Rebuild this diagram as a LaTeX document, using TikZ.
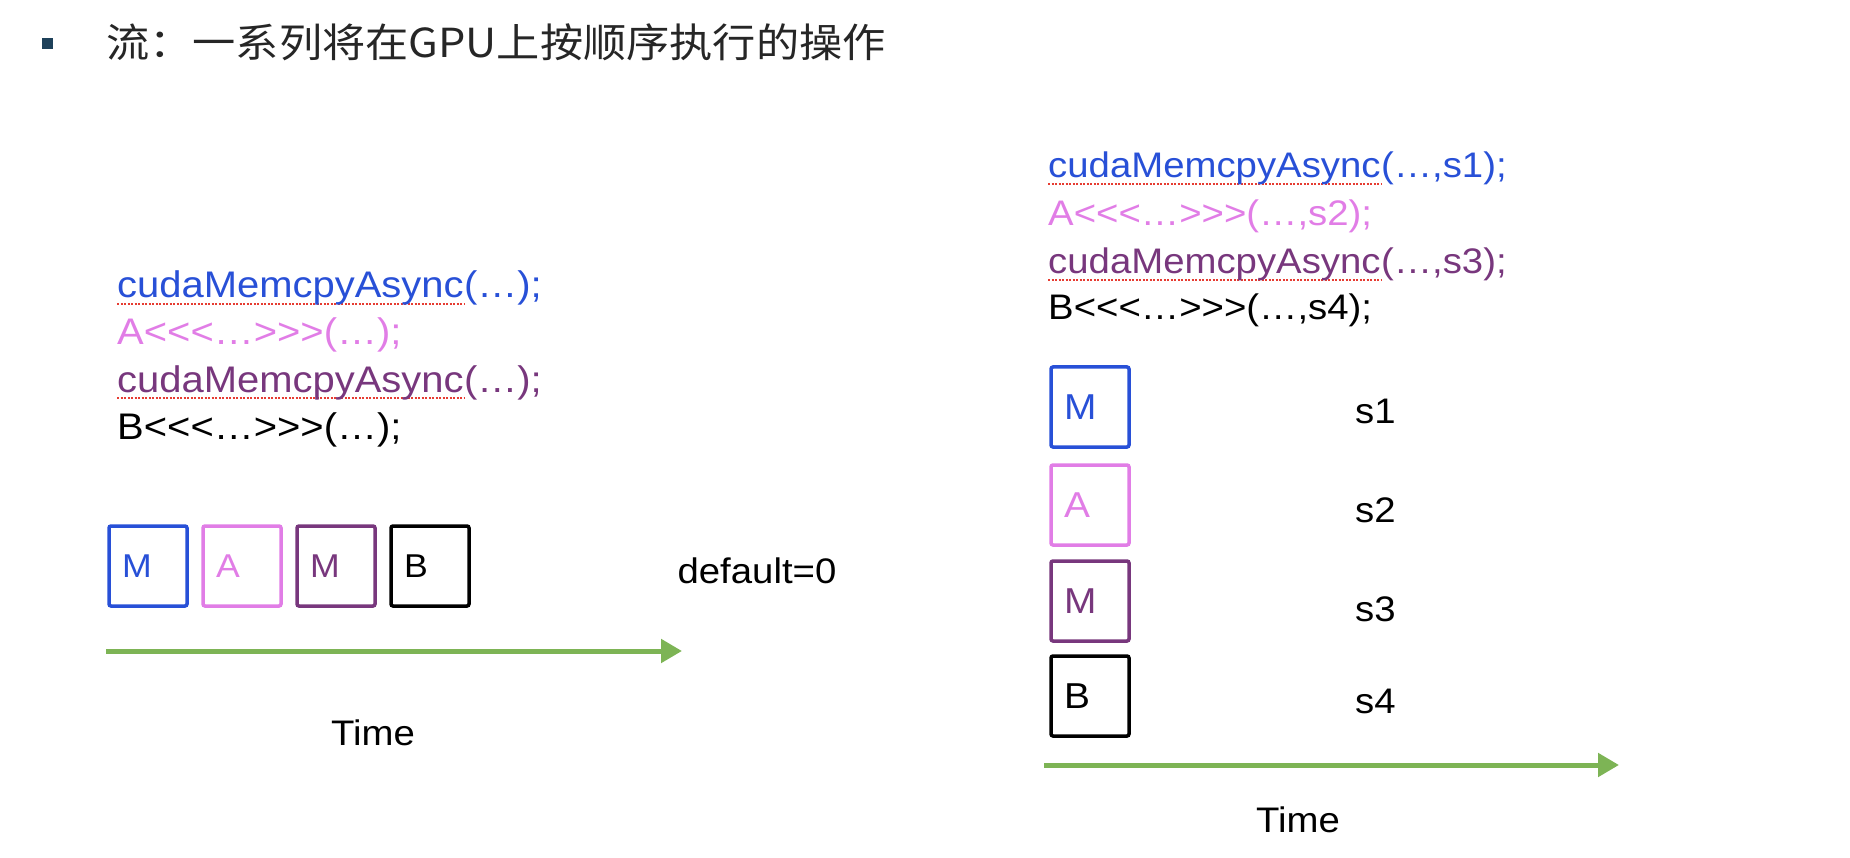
\documentclass[tikz,border=0pt]{standalone}
\usepackage{fontspec}
\setmainfont{Liberation Sans}[FakeStretch=1.08, Ligatures=TeXOff]
\newfontfamily\cjkfont{Noto Sans CJK SC}[FakeStretch=1.08]
\usetikzlibrary{arrows.meta}
\definecolor{cblue}{RGB}{40,80,215}
\definecolor{cpink}{RGB}{225,125,230}
\definecolor{cpurple}{RGB}{120,55,125}
\definecolor{cgreen}{RGB}{125,180,85}
\definecolor{cred}{RGB}{230,60,50}
\definecolor{cbullet}{RGB}{30,65,90}
\pgfdeclarelayer{edgelayer}
\pgfdeclarelayer{nodelayer}
\pgfsetlayers{edgelayer,nodelayer,main}
\tikzstyle{bullet}=[rectangle, fill=cbullet, minimum size=11pt, inner sep=0pt]
\tikzstyle{heading}=[anchor=base west, inner sep=0pt, text=black!85, font=\cjkfont\fontsize{40}{48}\selectfont]
\tikzstyle{code}=[anchor=base west, inner sep=0pt, font=\fontsize{37}{44}\selectfont]
\tikzstyle{scode}=[anchor=base west, inner sep=0pt, font=\fontsize{35.5}{42}\selectfont]
\tikzstyle{plain}=[inner sep=0pt, font=\fontsize{35.5}{42}\selectfont]
\tikzstyle{op}=[rectangle, draw=black, line width=3.5pt, rounded corners=2pt, minimum height=80pt, inner xsep=13pt, text width=52pt, align=left, font=\fontsize{33}{40}\selectfont]
\tikzstyle{sop}=[op, font=\fontsize{36}{43}\selectfont]
\tikzstyle{redline}=[-, draw=cred, line width=2pt, dash pattern=on 2pt off 1.5pt]
\tikzstyle{timeline}=[-{Triangle[length=21pt,width=23pt]}, draw=cgreen, fill=cgreen, line width=5pt]

\begin{document}
\begin{tikzpicture}[x=1pt, y=-1pt]
            \useasboundingbox (0,0) rectangle (1850,858);
            \begin{pgfonlayer}{nodelayer}
                \node [style=bullet] (dot) at (47,44) {};
                \node [style=heading] (title) at (106,58) {流：一系列将在GPU上按顺序执行的操作};

                \node [style=code, text=cblue] (f1) at (117,298) {cudaMemcpyAsync};
                \node [style=code, text=cblue] (a1) at (f1.base east) {(…);};
                \node [style=code, text=cpink] (k2) at (117,345) {A<<<…>>>(…);};
                \node [style=code, text=cpurple] (f3) at (117,392) {cudaMemcpyAsync};
                \node [style=code, text=cpurple] (a3) at (f3.base east) {(…);};
                \node [style=code] (k4) at (117,439) {B<<<…>>>(…);};

                \node [style=op, draw=cblue, text=cblue] (m1) at (148,566) {M};
                \node [style=op, draw=cpink, text=cpink] (m2) at (242,566) {A};
                \node [style=op, draw=cpurple, text=cpurple] (m3) at (336,566) {M};
                \node [style=op] (m4) at (430,566) {B};
                \node [style=plain] (dflt) at (757,571) {default=0};
                \node [style=plain] (time1) at (373,733) {Time};

                \node [style=scode, text=cblue] (sf1) at (1048,178) {cudaMemcpyAsync};
                \node [style=scode, text=cblue] (sa1) at (sf1.base east) {(…,s1);};
                \node [style=scode, text=cpink] (sk2) at (1048,226) {A<<<…>>>(…,s2);};
                \node [style=scode, text=cpurple] (sf3) at (1048,274) {cudaMemcpyAsync};
                \node [style=scode, text=cpurple] (sa3) at (sf3.base east) {(…,s3);};
                \node [style=scode] (sk4) at (1048,320) {B<<<…>>>(…,s4);};

                \node [style=sop, draw=cblue, text=cblue] (sm1) at (1090,407) {M};
                \node [style=sop, draw=cpink, text=cpink] (sm2) at (1090,505) {A};
                \node [style=sop, draw=cpurple, text=cpurple] (sm3) at (1090,601) {M};
                \node [style=sop] (sm4) at (1090,696) {B};
                \node [style=plain, anchor=west] (s1) at (1355,411) {s1};
                \node [style=plain, anchor=west] (s2) at (1355,510) {s2};
                \node [style=plain, anchor=west] (s3) at (1355,609) {s3};
                \node [style=plain, anchor=west] (s4) at (1355,701) {s4};
                \node [style=plain] (time2) at (1298,820) {Time};

                \coordinate (t0) at (106,651);
                \coordinate (t1) at (682,651);
                \coordinate (st0) at (1044,765);
                \coordinate (st1) at (1619,765);
            \end{pgfonlayer}
            \begin{pgfonlayer}{edgelayer}
                \draw [style=redline] ([yshift=-6pt]f1.base west) to ([yshift=-6pt]f1.base east);
                \draw [style=redline] ([yshift=-6pt]f3.base west) to ([yshift=-6pt]f3.base east);
                \draw [style=redline] ([yshift=-6pt]sf1.base west) to ([yshift=-6pt]sf1.base east);
                \draw [style=redline] ([yshift=-6pt]sf3.base west) to ([yshift=-6pt]sf3.base east);

                \draw [style=timeline] (t0) to (t1);
                \draw [style=timeline] (st0) to (st1);
            \end{pgfonlayer}
        \end{tikzpicture}
\end{document}
